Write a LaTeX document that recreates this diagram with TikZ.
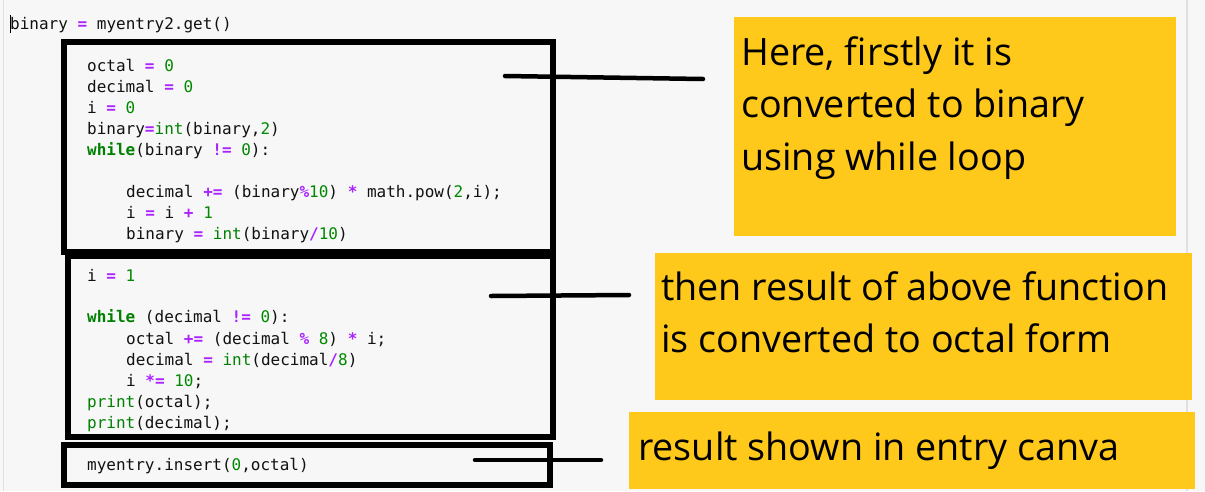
\documentclass[tikz,border=0pt]{standalone}
\usepackage{fontspec}
\setmainfont{Open Sans}
\setmonofont{DejaVu Sans Mono}
\definecolor{bgcol}{HTML}{F7F7F7}
\definecolor{edgecol}{HTML}{E0E0E0}
\definecolor{noteyellow}{HTML}{FFC91B}
\definecolor{oppurple}{HTML}{AA22FF}
\definecolor{numgreen}{HTML}{008800}
\definecolor{kwgreen}{HTML}{008000}
\definecolor{codeblack}{HTML}{111111}
\newcommand{\opc}[1]{\textcolor{oppurple}{\bfseries #1}}
\newcommand{\numc}[1]{\textcolor{numgreen}{#1}}
\newcommand{\kwc}[1]{\textcolor{kwgreen}{\bfseries #1}}
\newcommand{\bic}[1]{\textcolor{kwgreen}{#1}}
\begin{document}
\begin{tikzpicture}[x=1pt,y=-1pt,
  codebox/.style={draw=black, line width=6pt},
  codeline/.style={anchor=base west, inner sep=0pt, text=codeblack,
    font=\ttfamily\fontsize{16}{21}\selectfont},
  notebox/.style={fill=noteyellow, draw=none, anchor=north west, inner sep=0pt},
  notetext/.style={anchor=base west, inner sep=0pt, text=black,
    font=\fontsize{37.7}{52.5}\selectfont},
  leader/.style={line width=4.5pt, line cap=round}]
% background
\fill[bgcol] (0,0) rectangle (1205,491);
\useasboundingbox (0,0) rectangle (1205,491);
\draw[edgecol, line width=1.2pt] (3.5,0) -- (3.5,491);
\draw[edgecol, line width=1.2pt] (1187,0) -- (1187,491);
% cursor
\draw[black, line width=0.8pt] (10,15) -- (10,33);
% code
\node[codeline] (l0) at (10,29) {binary \opc{=} myentry2.get()};
% box A
\node[codeline] (a1) at (87,71) {octal \opc{=} \numc{0}};
\node[codeline] (a2) at (87,92) {decimal \opc{=} \numc{0}};
\node[codeline] (a3) at (87,113) {i \opc{=} \numc{0}};
\node[codeline] (a4) at (87,134) {binary\opc{=}\bic{int}(binary,\numc{2})};
\node[codeline] (a5) at (87,155) {\kwc{while}(binary \opc{!=} \numc{0}):};
\node[codeline] (a6) at (126,197) {decimal \opc{+=} (binary\opc{\%}\numc{10}) \opc{*} math.pow(\numc{2},i);};
\node[codeline] (a7) at (126,218) {i \opc{=} i \opc{+} \numc{1}};
\node[codeline] (a8) at (126,239) {binary \opc{=} \bic{int}(binary\opc{/}\numc{10})};
% box B
\node[codeline] (b1) at (87,281) {i \opc{=} \numc{1}};
\node[codeline] (b2) at (87,322) {\kwc{while} (decimal \opc{!=} \numc{0}):};
\node[codeline] (b3) at (126,344) {octal \opc{+=} (decimal \opc{\%} \numc{8}) \opc{*} i;};
\node[codeline] (b4) at (126,365) {decimal \opc{=} \bic{int}(decimal\opc{/}\numc{8})};
\node[codeline] (b5) at (126,386) {i \opc{*=} \numc{10};};
\node[codeline] (b6) at (87,407) {\bic{print}(octal);};
\node[codeline] (b7) at (87,428) {\bic{print}(decimal);};
% box C
\node[codeline] (c1) at (87,470) {myentry.insert(\numc{0},octal)};
% boxes
\draw[codebox] (64,42) rectangle (553,252);
\draw[codebox] (67.5,256) rectangle (553,437);
\draw[codebox] (64,444.5) rectangle (550,485);
% notes
\node[notebox, minimum width=442pt, minimum height=219pt] (n1) at (734,17) {};
\node[notebox, minimum width=537pt, minimum height=147pt] (n2) at (655,253) {};
\node[notebox, minimum width=566pt, minimum height=77pt] (n3) at (629,412) {};
\node[notetext] (t11) at (741,65) {Here, firstly it is};
\node[notetext] (t12) at (741,117.5) {converted to binary};
\node[notetext] (t13) at (741,170) {using while loop};
\node[notetext] (t21) at (661,300) {then result of above function};
\node[notetext] (t22) at (661,352.5) {is converted to octal form};
\node[notetext] (t31) at (638,460) {result shown in entry canva};
% leaders
\coordinate (s1) at (505,76);
\coordinate (e1) at (703,79);
\coordinate (s2) at (491,296);
\coordinate (e2) at (629,295);
\coordinate (s3) at (475,460);
\coordinate (e3) at (601,460);
\draw[leader] (s1) -- (e1);
\draw[leader] (s2) -- (e2);
\draw[leader] (s3) -- (e3);
\end{tikzpicture}
\end{document}
